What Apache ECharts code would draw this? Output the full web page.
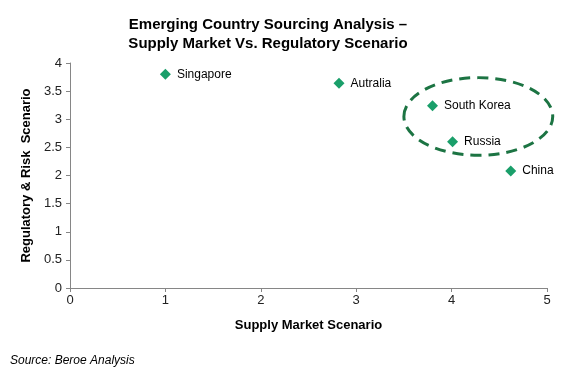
<!DOCTYPE html>
<html>
<head>
<meta charset="utf-8">
<script src="https://cdn.jsdelivr.net/npm/echarts@6/dist/echarts.min.js"></script>
<style>
  html, body { margin: 0; padding: 0; background: #fff; }
</style>
</head>
<body>
<div id="main" style="width:567px;height:378px;"></div>
<script>
// country positions
var countries = ['Singapore', 'Autralia', 'South Korea', 'Russia', 'China'];
var supplyMarket = [1.0, 2.82, 3.8, 4.01, 4.62];
var regulatoryRisk = [3.8, 3.64, 3.24, 2.6, 2.08];
// dashed ring round South Korea and Russia, in data units: [cx, cy, rx, ry]
var ring = [4.28, 3.05, 0.78, 0.69];

var chart = echarts.init(document.getElementById('main'));

var points = countries.map(function (name, i) {
    return { name: name, value: [supplyMarket[i], regulatoryRisk[i]] };
});

var font = 'Arial, "Liberation Sans", sans-serif';

chart.setOption({
    animation: false,
    title: {
        text: 'Emerging Country Sourcing Analysis \u2013\nSupply Market Vs. Regulatory Scenario',
        left: 263,
        textAlign: 'center',
        top: 10,
        textStyle: { fontFamily: font, fontSize: 15, fontWeight: 'bold', color: '#000', lineHeight: 19 }
    },
    grid: { left: 70, right: 20, top: 63, bottom: 90 },
    xAxis: {
        type: 'value', min: 0, max: 5, interval: 1,
        name: 'Supply Market Scenario', nameLocation: 'middle', nameGap: 31,
        nameTextStyle: { fontFamily: font, fontSize: 13, fontWeight: 'bold', color: '#000' },
        axisLine: { lineStyle: { color: '#868686' } },
        axisTick: { show: true, length: 4, lineStyle: { color: '#868686' } },
        axisLabel: { fontFamily: font, fontSize: 13, color: '#222', margin: 6 },
        splitLine: { show: false }
    },
    yAxis: {
        type: 'value', min: 0, max: 4, interval: 0.5,
        name: 'Regulatory & Risk  Scenario', nameLocation: 'middle', nameGap: 37,
        nameTextStyle: { fontFamily: font, fontSize: 13, fontWeight: 'bold', color: '#000' },
        axisLine: { show: true, lineStyle: { color: '#868686' } },
        axisTick: { show: true, length: 4, lineStyle: { color: '#868686' } },
        axisLabel: { fontFamily: font, fontSize: 13, color: '#222', margin: 8 },
        splitLine: { show: false }
    },
    series: [{
        type: 'scatter',
        symbol: 'diamond',
        symbolSize: 11,
        itemStyle: { color: '#1a9f6a', opacity: 1 },
        label: {
            show: true, position: 'right', distance: 6,
            formatter: '{b}',
            fontFamily: font, fontSize: 12, color: '#000'
        },
        data: points
    }]
});

// place the dashed ring from its data coordinates
var c = chart.convertToPixel({ gridIndex: 0 }, [ring[0], ring[1]]);
var e = chart.convertToPixel({ gridIndex: 0 }, [ring[0] + ring[2], ring[1] + ring[3]]);
chart.setOption({
    graphic: [{
        type: 'text',
        left: 10, top: 355,
        style: { text: 'Source: Beroe Analysis', font: 'italic 12px ' + font, fill: '#000' }
    }, {
        type: 'ellipse',
        shape: { cx: c[0], cy: c[1], rx: e[0] - c[0], ry: c[1] - e[1] },
        style: { fill: 'none', stroke: '#1c7443', lineWidth: 3, lineDash: [11, 7] },
        z: 10
    }]
});
</script>
</body>
</html>
